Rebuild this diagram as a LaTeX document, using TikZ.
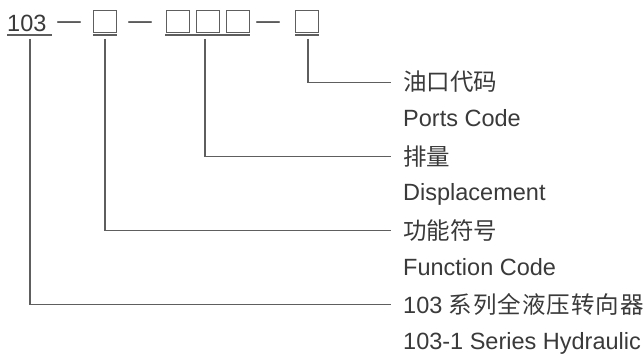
\documentclass[tikz,border=0pt]{standalone}
\usepackage{fontspec}
\setmainfont{Liberation Sans}
\newfontfamily\cjk{Noto Sans CJK SC}
\newfontfamily\cjkwide[LetterSpace=4]{Noto Sans CJK SC}
\usepackage{xcolor}
\usetikzlibrary{positioning}
\definecolor{codegray}{HTML}{3A3A3A}
\definecolor{linegray}{HTML}{5E5E5E}

\begin{document}
\begin{tikzpicture}[x=1pt,y=-1pt,
  txt/.style={font=\fontsize{23.5}{28}\selectfont,text=codegray,inner sep=0pt},
  blank/.style={draw=linegray,line width=0.9pt,minimum width=23pt,
    minimum height=22pt,inner sep=0pt},
  ln/.style={draw=linegray,line width=1.1pt},
  lbl/.style={txt,anchor=base west}]
  % Model code key: 103 - function - displacement - ports
  \def\lx{403}      % label column
  \def\yb{91}       % first label baseline
  \def\ysp{74.3}    % row spacing
  \def\ensp{35.5}   % chinese -> english baseline
  \useasboundingbox[fill=white] (0,0) rectangle (644,358);
  % --- Code line ---
  \node[txt,anchor=base west] (code) at (7,32) {103};
  \node[txt,anchor=base] (dashA) at (69,32) {\raisebox{3pt}{—}};
  \node[blank] (func) at (105,21) {};
  \node[txt,anchor=base] (dashB) at (140,32) {\raisebox{3pt}{—}};
  \node[blank] (dispA) at (178,21) {};
  \node[blank,right=6pt of dispA] (dispB) {};
  \node[blank,right=6pt of dispB] (dispC) {};
  \node[txt,anchor=base] (dashC) at (268,32) {\raisebox{3pt}{—}};
  \node[blank] (ports) at (307,21) {};
  % underlines
  \foreach \a/\b in {7/52,93/117,165/250,295/319}
    \draw[ln] (\a,35) -- (\b,35);
  % leader start points
  \coordinate (uSeries) at (30,39);
  \coordinate (uFunc) at (105,39);
  \coordinate (uDisp) at (205,39);
  \coordinate (uPorts) at (308,39);
  % --- Labels (top to bottom) ---
  \node[lbl] (portsCN) at (\lx,\yb) {\cjk 油口代码};
  \node[lbl] (portsEN) at (\lx,\yb+\ensp) {Ports Code};
  \node[lbl] (dispCN) at (\lx,\yb+\ysp) {\cjk 排量};
  \node[lbl] (dispEN) at (\lx,\yb+\ysp+\ensp) {Displacement};
  \node[lbl] (funcCN) at (\lx,\yb+2*\ysp) {\cjk 功能符号};
  \node[lbl] (funcEN) at (\lx,\yb+2*\ysp+\ensp) {Function Code};
  \node[lbl] (seriesCN) at (\lx,\yb+3*\ysp) {103 {\cjkwide 系列全液压转向器}};
  \node[lbl] (seriesEN) at (\lx,\yb+3*\ysp+\ensp) {103-1 Series Hydraulic};
  % --- Leaders ---
  \draw[ln] (uPorts) |- ([xshift=-12pt]portsCN.west);
  \draw[ln] (uDisp) |- ([xshift=-12pt]dispCN.west);
  \draw[ln] (uFunc) |- ([xshift=-12pt]funcCN.west);
  \draw[ln] (uSeries) |- ([xshift=-12pt]seriesCN.west);
\end{tikzpicture}
\end{document}
